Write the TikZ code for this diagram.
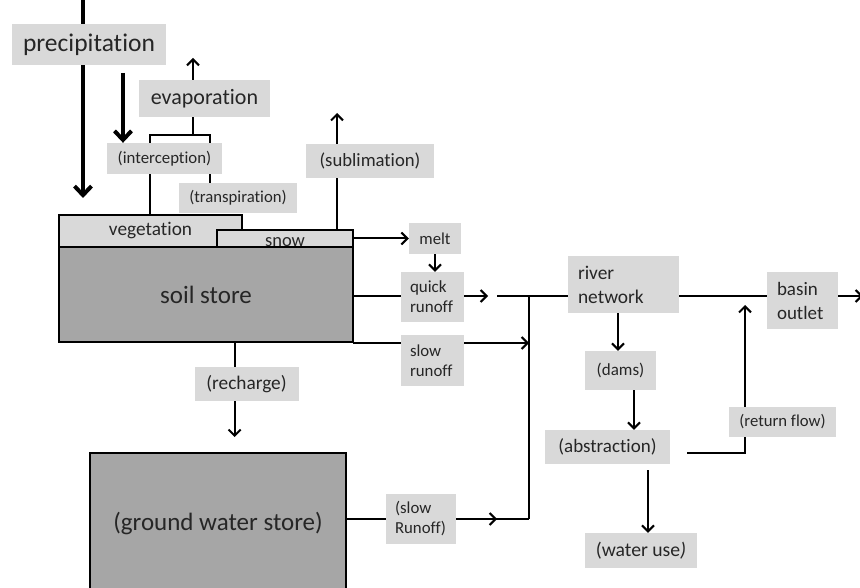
\documentclass[tikz,border=0pt]{standalone}
\usepackage{fontspec}
\setmainfont[Ligatures=NoCommon]{Carlito}
\usetikzlibrary{arrows.meta,backgrounds}
\definecolor{lgrey}{HTML}{D9D9D9}
\definecolor{dgrey}{HTML}{A6A6A6}
\definecolor{txt}{HTML}{262626}
\begin{document}
\begin{tikzpicture}[x=1pt,y=-1pt,
  lbl/.style={fill=lgrey, inner sep=0pt, text=txt, anchor=center},
  lbltwo/.style={lbl, align=left, inner xsep=9pt},
  store/.style={draw=black, line width=2pt, inner sep=0pt, text=txt},
  flow/.style={line width=2pt, -{Straight Barb[length=6pt,width=12pt]}},
  plain/.style={line width=2pt},
  bigflow/.style={line width=4pt, -{Straight Barb[length=9pt,width=17pt]}}
]
\useasboundingbox (0,0) rectangle (860,588);

% labels
\node[lbl, minimum width=154pt, minimum height=41pt, font=\fontsize{25.5}{30}\selectfont] (prec) at (89,44.5) {precipitation};
\node[lbl, minimum width=131pt, minimum height=37pt, font=\fontsize{22}{26}\selectfont] (evap) at (204.5,98.5) {evaporation};
\node[lbl, minimum width=115pt, minimum height=31pt, font=\fontsize{16.8}{20}\selectfont] (inter) at (164.5,158.5) {(interception)};
\node[lbl, minimum width=118pt, minimum height=30pt, font=\fontsize{16.7}{20}\selectfont] (trans) at (238,198) {(transpiration)};
\node[lbl, minimum width=128pt, minimum height=34pt, font=\fontsize{18.7}{22}\selectfont] (subl) at (370,161) {(sublimation)};

% stores
\node[store, fill=lgrey, minimum width=183pt, minimum height=32pt, font=\fontsize{19.3}{23}\selectfont] (veg) at (150.5,231) {vegetation};
\node[store, fill=lgrey, minimum width=136pt, minimum height=17pt] (snow) at (285,238.5) {};
\node[text=txt, inner sep=0pt, anchor=base, font=\fontsize{18.5}{22}\selectfont] (snowtxt) at (285,247) {snow};
\node[store, fill=dgrey, minimum width=294pt, minimum height=95pt, font=\fontsize{25}{30}\selectfont] (soil) at (206,294.5) {soil store};
\node[store, fill=dgrey, minimum width=256pt, minimum height=142pt, font=\fontsize{25}{30}\selectfont] (ground) at (218,524) {(ground water store)};

% flow labels
\node[lbl, minimum width=52pt, minimum height=31pt, font=\fontsize{16.7}{20}\selectfont] (melt) at (435,238.5) {melt};
\node[lbltwo, text width=45pt, minimum height=50pt, font=\fontsize{17}{20}\selectfont] (quick) at (432.5,297) {quick\\runoff};
\node[lbltwo, text width=45pt, minimum height=51pt, font=\fontsize{16.8}{20}\selectfont] (slow) at (432.5,360.5) {slow\\runoff};
\node[lbltwo, text width=52pt, minimum height=50pt, font=\fontsize{16.8}{20}\selectfont] (slowR) at (421,519) {(slow\\Runoff)};
\node[lbl, minimum width=104pt, minimum height=34pt, font=\fontsize{19.3}{23}\selectfont] (rech) at (246.5,384) {(recharge)};
\node[lbltwo, inner xsep=10pt, text width=91pt, minimum height=57pt, font=\fontsize{19.4}{24}\selectfont] (river) at (623.5,284.5) {river\\network};
\node[lbltwo, inner xsep=10pt, text width=51pt, minimum height=57pt, font=\fontsize{19}{24}\selectfont] (basin) at (802.5,300.5) {basin\\outlet};
\node[lbl, minimum width=71pt, minimum height=39pt, font=\fontsize{17}{20}\selectfont] (dams) at (620.5,370.5) {(dams)};
\node[lbl, minimum width=125pt, minimum height=34pt, font=\fontsize{19}{23}\selectfont] (abstr) at (607.5,447) {(abstraction)};
\node[lbl, minimum width=112pt, minimum height=35pt, font=\fontsize{19.7}{23}\selectfont] (wuse) at (641,550.5) {(water use{\itshape )}};
\node[lbl, minimum width=107pt, minimum height=30pt, font=\fontsize{16.7}{20}\selectfont] (retf) at (782.5,422) {(return flow)};

% helper coordinates
\coordinate (ptop) at (83,0);
\coordinate (pland) at (83,198);
\coordinate (i1) at (123,73);
\coordinate (bj) at (193,135);
\coordinate (evtop) at (193,58);
\coordinate (bl) at (150,135);
\coordinate (br) at (210,135);
\coordinate (sb) at (337,113);
\coordinate (q0) at (353,296);
\coordinate (q1) at (488,296);
\coordinate (r0) at (497,296);
\coordinate (rend) at (863,296);
\coordinate (j1) at (529,296);
\coordinate (j2) at (529,519);
\coordinate (s0) at (353,343);
\coordinate (g1) at (497,519);
\coordinate (rc0) at (234.6,342);
\coordinate (rc1) at (234.6,437);
\coordinate (d0) at (618,313);
\coordinate (a0) at (634,390);
\coordinate (w0) at (648,470);
\coordinate (f0) at (687,453);
\coordinate (f1) at (745,453);
\coordinate (f2) at (745,305);

\begin{scope}[on background layer]
\draw[bigflow] (ptop) -- (pland);
\draw[bigflow] (i1) -- (inter.north -| i1);
\draw[flow] (bj) -- (evtop);
\draw[plain] (veg.north -| bl) -- (bl) -- (br) -- (trans.north -| br);
\draw[flow] (snow.north -| sb) -- (sb);
\draw[flow] (snow.east) -- (melt.west);
\draw[flow] (melt.south) -- (melt.south |- quick.north);
\draw[flow] (q0) -- (q1);
\draw[plain] (r0) -- (basin.west |- r0);
\draw[flow] (basin.east |- r0) -- (rend);
\draw[plain] (j1) -- (j2);
\draw[flow] (s0) -- (j1 |- s0);
\draw[plain] (ground.east |- j2) -- (j2);
\draw[flow] (ground.east |- j2) -- (g1);
\draw[flow] (rc0) -- (rc1);
\draw[flow] (d0) -- (dams.north -| d0);
\draw[flow] (a0) -- (abstr.north -| a0);
\draw[flow] (w0) -- (wuse.north -| w0);
\draw[flow] (f0) -- (f1) -- (f2);
\end{scope}
\end{tikzpicture}
\end{document}
